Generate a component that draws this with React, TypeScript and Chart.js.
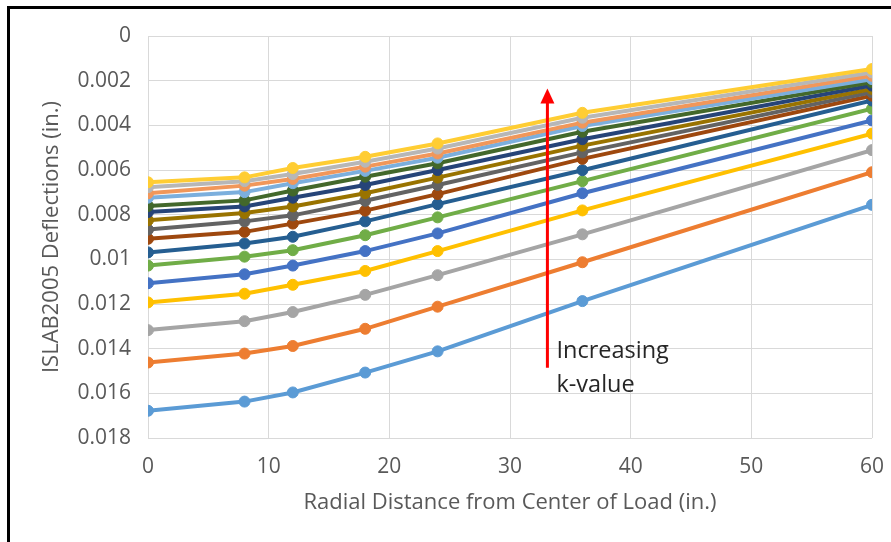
import { useEffect, useRef } from "react";
import { Chart, registerables } from "chart.js";

Chart.register(...registerables);

// Radial distance (in.)
const xValues = [0, 8, 12, 18, 24, 36, 60];

// ISLAB2005 deflections (in.), series ordered from lowest to highest k-value
const k01 = [0.01678, 0.01637, 0.01596, 0.01507, 0.01412, 0.01187, 0.00756];
const k02 = [0.01462, 0.01422, 0.01388, 0.01311, 0.01212, 0.01013, 0.0061];
const k03 = [0.01317, 0.01277, 0.01236, 0.01159, 0.01071, 0.00888, 0.00511];
const k04 = [0.01193, 0.01154, 0.01114, 0.01052, 0.00963, 0.00781, 0.00437];
const k05 = [0.01107, 0.01067, 0.01028, 0.00963, 0.00884, 0.00704, 0.00378];
const k06 = [0.01028, 0.00988, 0.00959, 0.00892, 0.00812, 0.0065, 0.00326];
const k07 = [0.00969, 0.00929, 0.00899, 0.0083, 0.00753, 0.00601, 0.00289];
const k08 = [0.00908, 0.00877, 0.0084, 0.00782, 0.00708, 0.0055, 0.00267];
const k09 = [0.00867, 0.0083, 0.00803, 0.00738, 0.00667, 0.00521, 0.00252];
const k10 = [0.00825, 0.00793, 0.00763, 0.00704, 0.00634, 0.00491, 0.00237];
const k11 = [0.00788, 0.00763, 0.00724, 0.00667, 0.006, 0.00462, 0.00222];
const k12 = [0.00761, 0.00736, 0.00692, 0.0063, 0.0057, 0.00429, 0.00207];
const k13 = [0.00724, 0.00699, 0.00659, 0.00604, 0.00545, 0.00403, 0.00193];
const k14 = [0.00704, 0.0067, 0.0064, 0.00585, 0.00526, 0.00388, 0.00178];
const k15 = [0.00677, 0.0065, 0.00618, 0.00563, 0.00504, 0.00366, 0.00163];
const k16 = [0.00655, 0.00633, 0.00591, 0.00541, 0.00481, 0.00344, 0.00148];

const seriesList = [k01, k02, k03, k04, k05, k06, k07, k08, k09, k10, k11, k12, k13, k14, k15, k16];

const seriesColors = [
  "#5B9BD5", "#ED7D31", "#A5A5A5", "#FFC000", "#4472C4", "#70AD47", "#255E91", "#9E480E",
  "#636363", "#997300", "#264478", "#43682B", "#7CAFDD", "#F1975A", "#B7B7B7", "#FFCD33",
];

// Axis ranges
const xMin = 0, xMax = 60, xStep = 10;
const yMin = 0, yMax = 0.018, yStep = 0.002;

// Annotation (data coordinates)
const arrowX = 33.1;
const arrowFrom = 0.01485;
const arrowTo = 0.00235;
const annotationLines = ["Increasing", "k-value"];
const annotationTextX = 33.85;
const annotationTextY = [0.0141, 0.01562];

const FONT = "'Open Sans', sans-serif";
const TEXT_COLOR = "#595959";

const arrowPlugin = {
  id: "kArrow",
  afterDatasetsDraw(chart: any) {
    const { ctx } = chart;
    const xs = chart.scales.x;
    const ys = chart.scales.y;
    const px = xs.getPixelForValue(arrowX);
    const pyFrom = ys.getPixelForValue(arrowFrom);
    const pyTo = ys.getPixelForValue(arrowTo);
    ctx.save();
    ctx.strokeStyle = "#FF0000";
    ctx.fillStyle = "#FF0000";
    ctx.lineWidth = 3;
    ctx.beginPath();
    ctx.moveTo(px, pyFrom);
    ctx.lineTo(px, pyTo + 12);
    ctx.stroke();
    ctx.beginPath();
    ctx.moveTo(px, pyTo);
    ctx.lineTo(px - 7, pyTo + 15);
    ctx.lineTo(px + 7, pyTo + 15);
    ctx.closePath();
    ctx.fill();
    ctx.fillStyle = "#262626";
    ctx.font = `23.5px ${FONT}`;
    ctx.textAlign = "left";
    ctx.textBaseline = "middle";
    const tx = xs.getPixelForValue(annotationTextX);
    annotationLines.forEach((line, i) => {
      ctx.fillText(line, tx, ys.getPixelForValue(annotationTextY[i]));
    });
    ctx.restore();
  },
};

export default function App() {
  const canvasRef = useRef<HTMLCanvasElement | null>(null);

  useEffect(() => {
    if (!canvasRef.current) return;
    const datasets = seriesList.map((vals, i) => ({
      label: `k${i + 1}`,
      data: xValues.map((x, j) => ({ x, y: vals[j] })),
      borderColor: seriesColors[i],
      backgroundColor: seriesColors[i],
      pointBackgroundColor: seriesColors[i],
      pointBorderColor: seriesColors[i],
      borderWidth: 4,
      pointRadius: 5.5,
      pointBorderWidth: 1,
      tension: 0,
      order: seriesList.length - i,
    }));

    const chart = new Chart(canvasRef.current, {
      type: "line",
      data: { datasets },
      plugins: [arrowPlugin],
      options: {
        animation: false,
        responsive: false,
        devicePixelRatio: 1,
        events: [],
        layout: { padding: { left: 0, right: 19, top: 36, bottom: 0 } },
        plugins: { legend: { display: false }, tooltip: { enabled: false } },
        scales: {
          x: {
            type: "linear",
            min: xMin,
            max: xMax,
            afterFit: (s: any) => {
              s.height = 104;
              s.paddingLeft = 0;
              s.paddingRight = 0;
            },
            ticks: { stepSize: xStep, color: TEXT_COLOR, font: { family: FONT, size: 21 }, padding: 16 },
            grid: { color: "#D9D9D9", lineWidth: 1, drawTicks: false },
            border: { display: false },
            title: {
              display: true,
              text: "Radial Distance from Center of Load (in.)",
              color: TEXT_COLOR,
              font: { family: FONT, size: 22 },
              padding: { top: 0, bottom: 26 },
            },
          },
          y: {
            type: "linear",
            reverse: true,
            min: yMin,
            max: yMax,
            afterFit: (s: any) => {
              s.width = 148;
              s.paddingTop = 0;
              s.paddingBottom = 0;
            },
            ticks: {
              stepSize: yStep,
              color: TEXT_COLOR,
              font: { family: FONT, size: 21 },
              padding: 17,
              callback: (v: any) => String(Number(Number(v).toFixed(3))),
            },
            grid: { color: "#D9D9D9", lineWidth: 1, drawTicks: false },
            border: { display: false },
            title: {
              display: true,
              text: "ISLAB2005 Deflections (in.)",
              color: TEXT_COLOR,
              font: { family: FONT, size: 22 },
              padding: { top: 39, bottom: 0 },
            },
          },
        },
      },
    });
    return () => chart.destroy();
  }, []);

  return (
    <div style={{ position: "fixed", left: 0, top: 0, width: 891, height: 542, overflow: "hidden", background: "#fff" }}>
      <div style={{ position: "absolute", left: 7, top: 6, width: 2000, height: 2000, borderLeft: "3px solid #000", borderTop: "3px solid #000" }} />
      <canvas ref={canvasRef} width={891} height={542} style={{ position: "absolute", left: 0, top: 0, width: 891, height: 542, display: "block" }} />
    </div>
  );
}
